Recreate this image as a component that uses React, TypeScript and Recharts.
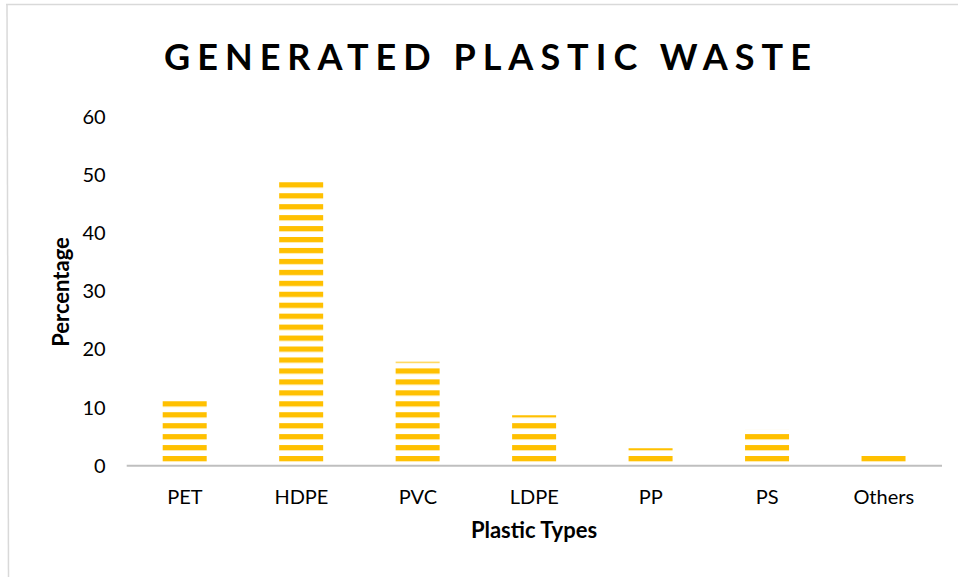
import React from 'react';
import { BarChart, Bar, XAxis, YAxis } from 'recharts';

const categories = ['PET', 'HDPE', 'PVC', 'LDPE', 'PP', 'PS', 'Others'];
const percentages = [11.2, 49.0, 17.9, 8.7, 3.0, 6.3, 1.8];
const yTicks = [0, 10, 20, 30, 40, 50, 60];

const data = categories.map((c, i) => ({ name: c, value: percentages[i] }));

const FONT = 'Lato, "Open Sans", "Noto Sans", sans-serif';
const GOLD = '#FFC000';

const W = 958;
const H = 577;
const AXIS_Y = 465.8;
const TOP_Y = 116.7;
const LEFT_X = 126.7;
const RIGHT_X = 942;

const XTick = (props: any) => {
  const { x, payload } = props;
  return (
    <text x={x} y={AXIS_Y + 38.2} textAnchor="middle" fontFamily={FONT} fontSize={20} fill="#000">
      {payload.value}
    </text>
  );
};

const YTick = (props: any) => {
  const { y, payload } = props;
  return (
    <text x={105.7} y={y} dy="0.35em" textAnchor="end" fontFamily={FONT} fontSize={20} fill="#000">
      {payload.value}
    </text>
  );
};

export default function App() {
  return (
    <div style={{ position: 'absolute', left: 0, top: 0, width: W, height: H, background: '#fff', overflow: 'hidden' }}>
      <BarChart
        width={W}
        height={H}
        data={data}
        margin={{ top: TOP_Y, right: W - RIGHT_X, bottom: H - AXIS_Y - 30, left: 0 }}
        barSize={44}
      >
        <defs>
          <pattern id="wideHoriz" patternUnits="userSpaceOnUse" x={0} y={456} width={20} height={10.95}>
            <rect x={0} y={0} width={20} height={5.3} fill={GOLD} />
          </pattern>
        </defs>
        <XAxis
          dataKey="name"
          height={30}
          axisLine={{ stroke: '#BFBFBF', strokeWidth: 2 }}
          tickLine={false}
          tickSize={0}
          tick={<XTick />}
          interval={0}
        />
        <YAxis
          width={LEFT_X}
          domain={[0, 60]}
          ticks={yTicks}
          axisLine={false}
          tickLine={false}
          tickSize={0}
          tick={<YTick />}
          interval={0}
        />
        <Bar dataKey="value" fill="url(#wideHoriz)" isAnimationActive={false} />
      </BarChart>
      <svg width={W} height={H} style={{ position: 'absolute', left: 0, top: 0, pointerEvents: 'none' }}>
        <line x1={6} y1={4.5} x2={W} y2={4.5} stroke="#D9D9D9" strokeWidth={1.5} />
        <line x1={7} y1={4.5} x2={8.5} y2={H} stroke="#D9D9D9" strokeWidth={1.5} />
        <text
          x={491}
          y={70}
          textAnchor="middle"
          fontFamily={FONT}
          fontWeight={700}
          fontSize={36}
          letterSpacing={7}
          fill="#000"
        >
          GENERATED PLASTIC WASTE
        </text>
        <text x={534} y={538.3} textAnchor="middle" fontFamily={FONT} fontWeight={700} fontSize={22} fill="#000">
          Plastic Types
        </text>
        <text
          x={0}
          y={0}
          transform="translate(69,292) rotate(-90)"
          textAnchor="middle"
          fontFamily={FONT}
          fontWeight={700}
          fontSize={22}
          fill="#000"
        >
          Percentage
        </text>
      </svg>
    </div>
  );
}
